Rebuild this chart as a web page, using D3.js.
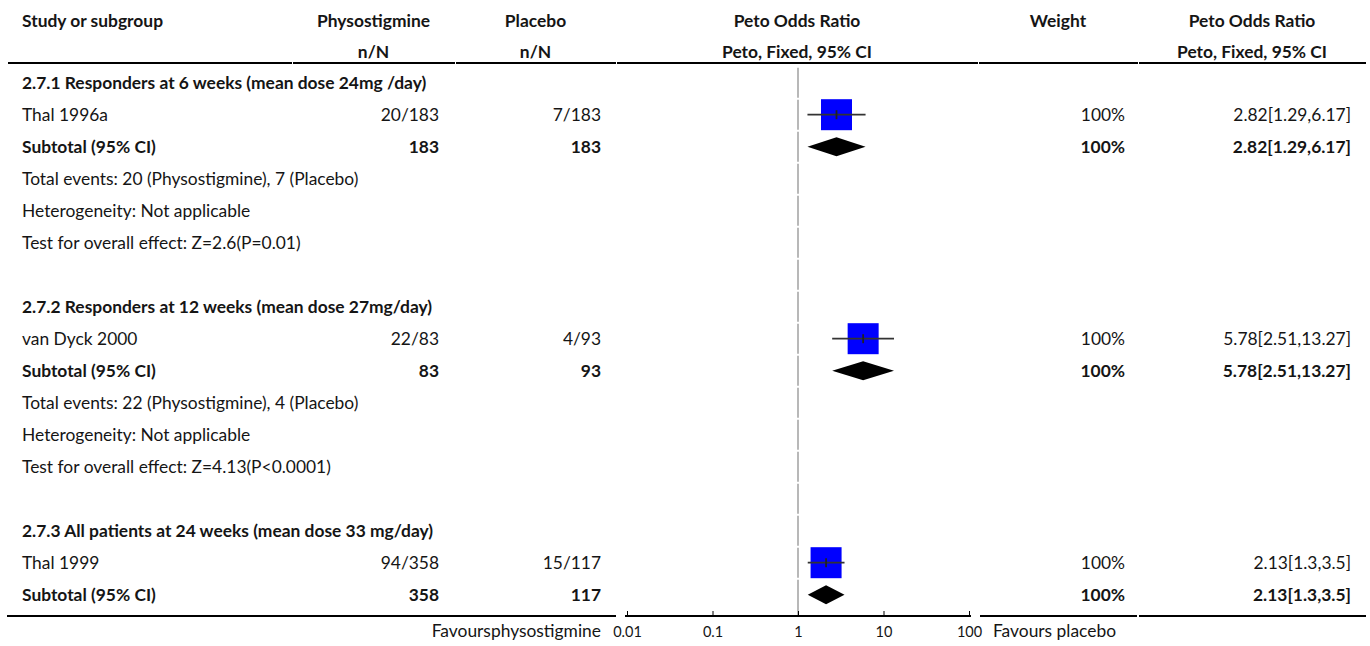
<!DOCTYPE html>
<html>
<head>
<meta charset="utf-8">
<script src="https://cdn.jsdelivr.net/npm/d3@7"></script>
<style>
  html, body { margin: 0; padding: 0; background: #fff; }
  svg text { font-family: Lato, "Open Sans", "Noto Sans", sans-serif; fill: #151515; }
</style>
</head>
<body>
<svg id="chart" width="1370" height="646"></svg>
<script>
// Subgroup titles and per-study data
const groupTitles = [
  "2.7.1 Responders at 6 weeks (mean dose 24mg /day)",
  "2.7.2 Responders at 12 weeks (mean dose 27mg/day)",
  "2.7.3 All patients at 24 weeks (mean dose 33 mg/day)"
];
const studyNames = ["Thal 1996a", "van Dyck 2000", "Thal 1999"];
const physoEvents = [20, 22, 94];
const physoTotals = [183, 83, 358];
const placeboEvents = [7, 4, 15];
const placeboTotals = [183, 93, 117];
const oddsRatios = [2.82, 5.78, 2.13];
const ciLower = [1.29, 2.51, 1.3];
const ciUpper = [6.17, 13.27, 3.5];
const studyWeights = [100, 100, 100];

// Pooled (subtotal) estimates per subgroup
const subtotalRatios = [2.82, 5.78, 2.13];
const subtotalLower = [1.29, 2.51, 1.3];
const subtotalUpper = [6.17, 13.27, 3.5];
const subtotalWeights = [100, 100, 100];

// Footnote statistics (only the first two subgroups report them)
const heterogeneityText = ["Not applicable", "Not applicable"];
const overallEffectText = ["Z=2.6(P=0.01)", "Z=4.13(P<0.0001)"];

const axisTicks = [0.01, 0.1, 1, 10, 100];
const favoursLeft = "Favoursphysostigmine";
const favoursRight = "Favours placebo";

// ---- build the table rows ----
const rows = [];
groupTitles.forEach((title, g) => {
  rows.push({ type: "group", label: title });
  rows.push({ type: "study", label: studyNames[g],
    a: physoEvents[g] + "/" + physoTotals[g], b: placeboEvents[g] + "/" + placeboTotals[g],
    or: oddsRatios[g], lo: ciLower[g], hi: ciUpper[g], w: studyWeights[g] });
  rows.push({ type: "subtotal", label: "Subtotal (95% CI)",
    a: String(physoTotals[g]), b: String(placeboTotals[g]),
    or: subtotalRatios[g], lo: subtotalLower[g], hi: subtotalUpper[g], w: subtotalWeights[g] });
  if (g < heterogeneityText.length) {
    rows.push({ type: "note", label: "Total events: " + physoEvents[g] + " (Physostigmine), " + placeboEvents[g] + " (Placebo)" });
    rows.push({ type: "note", label: "Heterogeneity: " + heterogeneityText[g] });
    rows.push({ type: "note", label: "Test for overall effect: " + overallEffectText[g] });
    rows.push({ type: "blank" });
  }
});

// ---- layout ----
const svg = d3.select("#chart");
const fontSize = 17.4;
const rowH = 32;
const firstRowTop = 66.7;
const axisY = 616;
const cols = {
  study: [7, 292], physo: [292, 455], placebo: [455, 616],
  plot: [616, 978], weight: [978, 1138], ci: [1138, 1366]
};

const yRow = d3.scaleLinear().domain([0, 1]).range([firstRowTop, firstRowTop + rowH]);
const x = d3.scaleLog().domain([0.01, 100]).range([627, 969]);
const boxSize = d3.scaleSqrt().domain([0, 100]).range([0, 31]);

const fmtCI = (r) => `${r.or}[${r.lo},${r.hi}]`;

// ---- header ----
const header = svg.append("g").attr("font-size", fontSize).attr("font-weight", "bold");
const mid = (c) => (c[0] + c[1]) / 2;
header.append("text").attr("x", 22).attr("y", 27).text("Study or subgroup");
[["physo", "Physostigmine", "n/N"], ["placebo", "Placebo", "n/N"],
 ["plot", "Peto Odds Ratio", "Peto, Fixed, 95% CI"], ["weight", "Weight", ""],
 ["ci", "Peto Odds Ratio", "Peto, Fixed, 95% CI"]].forEach(([k, l1, l2]) => {
  header.append("text").attr("x", mid(cols[k])).attr("y", 27).attr("text-anchor", "middle").text(l1);
  if (l2) header.append("text").attr("x", mid(cols[k])).attr("y", 58).attr("text-anchor", "middle").text(l2);
});

// rule under the header, one segment per column
const colList = [cols.study, cols.physo, cols.placebo, cols.plot, cols.weight, cols.ci];
svg.append("g").selectAll("line").data(colList).join("line")
  .attr("x1", d => d[0] + 1).attr("x2", d => d[1])
  .attr("y1", 63).attr("y2", 63)
  .attr("stroke", "#000").attr("stroke-width", 2);

// ---- line of no effect, drawn per row ----
svg.append("g").selectAll("line").data(rows).join("line")
  .attr("x1", x(1)).attr("x2", x(1))
  .attr("y1", (d, i) => yRow(i) + 1)
  .attr("y2", (d, i) => i === rows.length - 1 ? axisY : yRow(i + 1) - 1)
  .attr("stroke", "#a0a0a0").attr("stroke-width", 1.5);

// ---- row text ----
const body = svg.append("g").attr("font-size", fontSize);
rows.forEach((r, i) => {
  const cy = yRow(i + 0.5);
  const by = cy + 6;
  if (r.type === "blank") return;
  const bold = (r.type === "group" || r.type === "subtotal") ? "bold" : "normal";
  body.append("text").attr("x", 22).attr("y", by).attr("font-weight", bold).text(r.label);
  if (r.type === "study" || r.type === "subtotal") {
    body.append("text").attr("x", cols.physo[1] - 16).attr("y", by).attr("text-anchor", "end").attr("font-weight", bold).text(r.a);
    body.append("text").attr("x", cols.placebo[1] - 15).attr("y", by).attr("text-anchor", "end").attr("font-weight", bold).text(r.b);
    body.append("text").attr("x", cols.weight[1] - 13).attr("y", by).attr("text-anchor", "end").attr("font-weight", bold).text(r.w + "%");
    body.append("text").attr("x", cols.ci[1] - 15).attr("y", by).attr("text-anchor", "end").attr("font-weight", bold).text(fmtCI(r));
  }
});

// ---- forest marks ----
const marks = svg.append("g");
rows.forEach((r, i) => {
  const cy = yRow(i + 0.5);
  if (r.type === "study") {
    const s = boxSize(r.w);
    marks.append("rect")
      .attr("x", x(r.or) - s / 2).attr("y", cy - s / 2)
      .attr("width", s).attr("height", s)
      .attr("fill", "#0000ff");
    marks.append("line")
      .attr("x1", x(r.lo)).attr("x2", x(r.hi)).attr("y1", cy).attr("y2", cy)
      .attr("stroke", "#333").attr("stroke-width", 1.8);
    marks.append("line")
      .attr("x1", x(r.or)).attr("x2", x(r.or)).attr("y1", cy - 4.5).attr("y2", cy + 4.5)
      .attr("stroke", "#222").attr("stroke-width", 1.8);
  } else if (r.type === "subtotal") {
    const h = 9.5;
    marks.append("path")
      .attr("d", `M${x(r.lo)},${cy} L${x(r.or)},${cy - h} L${x(r.hi)},${cy} L${x(r.or)},${cy + h} Z`)
      .attr("fill", "#000");
  }
});

// ---- bottom rule and axis ----
const bottomSegs = [[7, 616], [625, 971], [980, 1137], [1139, 1366]];
svg.append("g").selectAll("line").data(bottomSegs).join("line")
  .attr("x1", d => d[0]).attr("x2", d => d[1])
  .attr("y1", axisY).attr("y2", axisY)
  .attr("stroke", "#000").attr("stroke-width", 2);

const axis = d3.axisBottom(x)
  .tickValues(axisTicks)
  .tickFormat(d3.format("~g"))
  .tickSizeInner(-5).tickSizeOuter(0).tickPadding(10.5);
const ag = svg.append("g").attr("transform", `translate(0,${axisY})`).call(axis);
ag.select(".domain").remove();
ag.selectAll(".tick line").attr("stroke", "#000").attr("stroke-width", 1);
ag.selectAll(".tick text")
  .attr("font-family", "Lato, sans-serif").attr("font-size", 14.5).attr("fill", "#222");

svg.append("text").attr("x", cols.placebo[1] - 15).attr("y", 637)
  .attr("text-anchor", "end").attr("font-size", fontSize).text(favoursLeft);
svg.append("text").attr("x", cols.weight[0] + 15).attr("y", 637)
  .attr("font-size", fontSize).text(favoursRight);
</script>
</body>
</html>
